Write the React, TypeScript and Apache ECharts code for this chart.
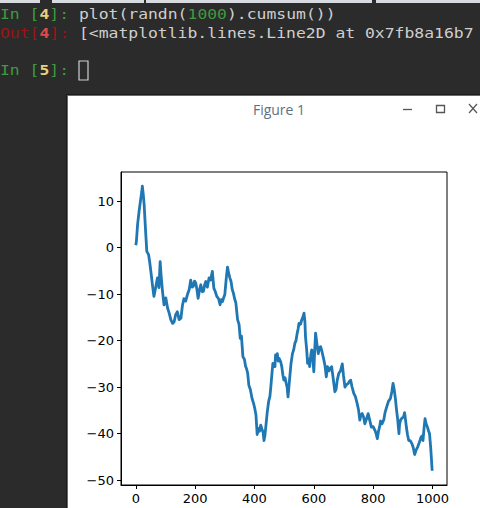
import React, { useEffect, useRef } from "react";
import * as echarts from "echarts";

// [step, cumulative sum]
const walkPoints: [number, number][] = [
  [0, 0.5], [2, 1.4], [6, 5], [11, 7.8], [17, 10.7], [20, 12], [22, 13.2], [25, 11.5], [28, 9.3],
  [33, 3.5], [37, -0.8], [43, -1.5], [47, -3.2], [52, -5.8], [56, -8], [61, -10.5], [67, -8.6],
  [73, -6.5], [78, -8.6], [82, -3], [85, -5.8], [90, -9.4], [95, -12.3], [101, -10.8], [107, -13],
  [112, -14], [118, -15.5], [124, -16.3], [129, -16], [134, -14.5], [140, -13.8], [146, -15.5],
  [152, -15.2], [157, -12.5], [162, -11], [168, -11.5], [174, -10.1], [180, -9], [185, -7],
  [190, -8.5], [194, -8.3], [198, -7.2], [202, -7.6], [206, -9], [210, -10.9], [215, -9], [219, -8],
  [224, -9.5], [228, -9.4], [232, -8], [236, -7.3], [241, -8.5], [247, -6.5], [252, -7], [258, -5.1],
  [263, -8.7], [268, -9.5], [273, -10.5], [279, -11], [284, -12.3], [288, -11.2], [292, -11.6],
  [296, -10.8], [300, -10.1], [305, -6.5], [309, -4.2], [313, -5.5], [317, -6.5], [321, -7.3],
  [325, -9], [329, -9.8], [333, -11], [337, -11.8], [343, -15.5], [348, -16.5], [352, -19.5],
  [356, -19], [361, -23.5], [366, -24], [370, -25.5], [373, -26], [377, -27], [381, -29.6],
  [386, -30.5], [392, -32.5], [397, -33.5], [401, -34.6], [405, -36], [409, -40.2], [413, -38.9],
  [417, -39.5], [421, -38.2], [425, -39], [429, -39.7], [432, -41.5], [435, -40.5], [439, -38],
  [443, -35.4], [448, -33], [452, -32], [455, -30], [459, -27], [462, -24.9], [466, -25.3],
  [469, -25.6], [471, -23.1], [474, -24], [477, -22.8], [480, -24.4], [483, -23.8], [488, -24.5],
  [492, -25.6], [496, -27.5], [499, -28.5], [503, -28], [507, -29.2], [510, -30], [513, -32.1],
  [516, -30], [519, -27.8], [523, -25], [528, -22.8], [532, -22], [536, -20.6], [540, -20],
  [544, -18.4], [547, -17.5], [550, -16.3], [555, -16.5], [559, -15.6], [563, -15], [567, -14.1],
  [570, -16], [572, -19.2], [576, -22], [579, -24.9], [583, -24], [586, -25.6], [590, -23],
  [593, -22], [597, -24], [600, -26.7], [603, -22], [606, -18.4], [610, -20.5], [615, -22.8],
  [619, -21.5], [623, -21.3], [628, -22.5], [634, -24.2], [638, -25.5], [642, -27.8], [646, -25.6],
  [651, -26.5], [655, -26], [660, -25.6], [665, -28], [671, -31], [675, -30.5], [679, -28.5],
  [684, -27.1], [690, -26.5], [696, -25], [700, -27.5], [705, -30], [710, -29.5], [716, -29.2],
  [720, -28.8], [724, -28.5], [729, -30], [735, -31.4], [740, -32], [746, -33.5], [751, -35],
  [755, -37.1], [759, -36], [763, -35.7], [768, -36.5], [772, -37.9], [777, -37], [783, -35.7],
  [788, -37], [794, -38.6], [800, -38.5], [806, -39.3], [810, -40], [814, -41.1], [818, -39.5],
  [822, -38.5], [825, -37.3], [830, -37.9], [836, -37], [840, -35.5], [847, -34], [852, -33],
  [858, -32.5], [863, -31], [867, -29.2], [871, -30.5], [875, -32.5], [879, -35], [883, -37.1],
  [887, -40], [889, -38], [893, -37], [898, -36.6], [902, -36.5], [906, -35.5], [909, -37],
  [912, -38.6], [916, -40.3], [920, -41.5], [925, -41.5], [931, -42.2], [935, -43], [940, -44.5],
  [945, -43.5], [950, -42.9], [955, -42], [958, -41.5], [961, -40.8], [965, -40.5], [968, -41.5],
  [972, -38.5], [975, -36.8], [979, -38], [983, -38.6], [987, -39.5], [990, -40], [994, -43],
  [999, -48],
];

const xTicks = [0, 200, 400, 600, 800, 1000];
const yTicks = [-50, -40, -30, -20, -10, 0, 10];

const consoleLines = {
  in4: "plot(randn(",
  in4num: "1000",
  in4end: ").cumsum())",
  out4: "[<matplotlib.lines.Line2D at 0x7fb8a16b7",
};

const windowTitle = "Figure 1";

const MONO = '"DejaVu Sans Mono", monospace';
const CW = 9.87; // char advance in the screenshot
const FS = 14;
const SX = CW / (FS * 0.602);

function monoText(col: number, y: number, text: string, fill: string, bold = false) {
  return {
    type: "text",
    x: col * CW,
    y,
    scaleX: SX,
    silent: true,
    style: {
      text,
      x: 0,
      y: 0,
      fill,
      font: `${bold ? "bold " : ""}${FS}px ${MONO}`,
      verticalAlign: "middle",
      align: "left",
    },
  };
}

const minus = (v: number) => (v < 0 ? "\u2212" + Math.abs(v) : String(v));

export default function App() {
  const ref = useRef<HTMLDivElement>(null);

  useEffect(() => {
    if (!ref.current) return;
    const chart = echarts.init(ref.current, null, { renderer: "svg" });

    const xs = walkPoints.map((p) => p[0]);
    const ys = walkPoints.map((p) => p[1]);
    const xMinD = Math.min(...xs), xMaxD = Math.max(...xs);
    const yMinD = Math.min(...ys), yMaxD = Math.max(...ys);
    const xPad = (xMaxD - xMinD) * 0.05;
    const yPad = (yMaxD - yMinD) * 0.05;

    const green = "#3f9a3f";
    const gray = "#cfcfcf";
    const red = "#9e1414";

    chart.setOption({
      animation: false,
      backgroundColor: "#2b2b2b",
      grid: {
        left: 121,
        top: 172,
        width: 326,
        height: 313,
        show: true,
        backgroundColor: "#ffffff",
        borderColor: "#000000",
        borderWidth: 1,
        z: 5,
      },
      xAxis: {
        type: "value",
        min: xMinD - xPad,
        max: xMaxD + xPad,
        splitLine: { show: false },
        axisLine: { show: true, onZero: false, lineStyle: { color: "#000", width: 1 } },
        axisTick: {
          show: true,
          inside: false,
          length: 4,
          customValues: xTicks,
          lineStyle: { color: "#000", width: 1 },
        },
        axisLabel: {
          show: true,
          customValues: xTicks,
          margin: 7,
          color: "#000",
          fontFamily: "DejaVu Sans",
          fontSize: 13,
          formatter: (v: number) => minus(v),
        },
        z: 6,
      },
      yAxis: {
        type: "value",
        min: yMinD - yPad,
        max: yMaxD + yPad,
        splitLine: { show: false },
        axisLine: { show: true, onZero: false, lineStyle: { color: "#000", width: 1 } },
        axisTick: {
          show: true,
          inside: false,
          length: 4,
          customValues: yTicks,
          lineStyle: { color: "#000", width: 1 },
        },
        axisLabel: {
          show: true,
          customValues: yTicks,
          margin: 7,
          color: "#000",
          fontFamily: "DejaVu Sans",
          fontSize: 13,
          formatter: (v: number) => minus(v),
        },
        z: 6,
      },
      series: [
        {
          type: "line",
          data: walkPoints,
          showSymbol: false,
          symbol: "none",
          lineStyle: { color: "#1f77b4", width: 2.8, join: "round" },
          z: 7,
        },
      ],
      graphic: [
        // tab strip at very top
        { type: "rect", silent: true, shape: { x: 0, y: 0, width: 40, height: 3 }, style: { fill: "#d8dce0" } },
        { type: "rect", silent: true, shape: { x: 52, y: 0, width: 92, height: 3 }, style: { fill: "#d8dce0" } },
        { type: "rect", silent: true, shape: { x: 146, y: 0, width: 226, height: 3 }, style: { fill: "#d8dce0" } },
        { type: "rect", silent: true, shape: { x: 376, y: 0, width: 104, height: 3 }, style: { fill: "#d8dce0" } },
        // console lines
        monoText(0, 14, "In [", green),
        monoText(4, 14, "4", "#e6d27a", true),
        monoText(5, 14, "]:", green),
        monoText(8, 14, consoleLines.in4, gray),
        monoText(19, 14, consoleLines.in4num, green),
        monoText(23, 14, consoleLines.in4end, gray),
        monoText(0, 33, "Out[", red),
        monoText(4, 33, "4", "#e04a4a", true),
        monoText(5, 33, "]:", red),
        monoText(8, 33, consoleLines.out4, gray),
        monoText(0, 70, "In [", green),
        monoText(4, 70, "5", "#e6d27a", true),
        monoText(5, 70, "]:", green),
        {
          type: "rect",
          silent: true,
          shape: { x: 79, y: 61, width: 9, height: 19 },
          style: { fill: "none", stroke: "#d0d0d0", lineWidth: 1.2 },
        },
        // figure window
        {
          type: "rect",
          silent: true,
          z: -1,
          shape: { x: 66, y: 94, width: 420, height: 420 },
          style: { fill: "#1c1c1c" },
        },
        {
          type: "rect",
          silent: true,
          z: 0,
          shape: { x: 67.5, y: 95.5, width: 420, height: 420 },
          style: { fill: "#ffffff", stroke: "#6a6a6a", lineWidth: 1 },
        },
        {
          type: "text",
          silent: true,
          z: 1,
          style: {
            text: windowTitle,
            x: 279,
            y: 109,
            fill: "#5f6f7f",
            font: '14px "Open Sans", "Noto Sans", sans-serif',
            align: "center",
            verticalAlign: "middle",
          },
        },
        {
          type: "line",
          silent: true,
          z: 1,
          shape: { x1: 403, y1: 109.5, x2: 412, y2: 109.5 },
          style: { stroke: "#555", lineWidth: 1.3 },
        },
        {
          type: "rect",
          silent: true,
          z: 1,
          shape: { x: 436.5, y: 105.5, width: 8, height: 7 },
          style: { fill: "none", stroke: "#555", lineWidth: 1.3 },
        },
        {
          type: "line",
          silent: true,
          z: 1,
          shape: { x1: 469, y1: 104, x2: 477, y2: 113 },
          style: { stroke: "#555", lineWidth: 1.2 },
        },
        {
          type: "line",
          silent: true,
          z: 1,
          shape: { x1: 477, y1: 104, x2: 469, y2: 113 },
          style: { stroke: "#555", lineWidth: 1.2 },
        },
      ],
    });

    return () => chart.dispose();
  }, []);

  return (
    <div
      ref={ref}
      style={{ position: "fixed", left: 0, top: 0, width: 480, height: 508, background: "#2b2b2b" }}
    />
  );
}
